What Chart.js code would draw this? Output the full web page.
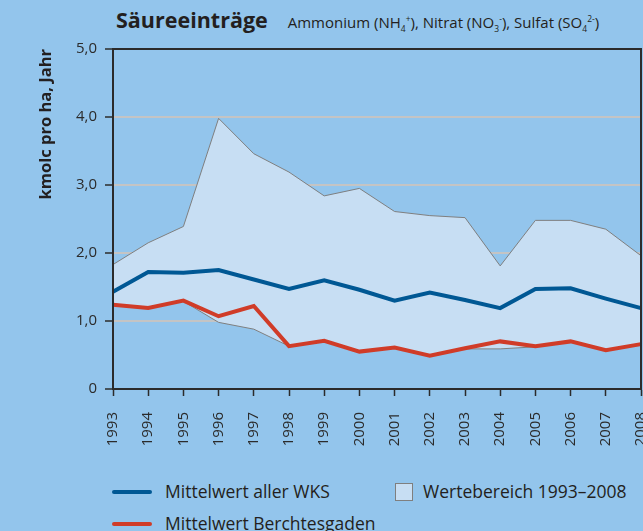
<!DOCTYPE html>
<html>
<head>
<meta charset="utf-8">
<script src="https://cdn.jsdelivr.net/npm/chart.js@4"></script>
<style>
  html, body { margin: 0; padding: 0; }
  body { width: 643px; height: 531px; overflow: hidden; background: #93c5ec; position: relative;
         font-family: "Open Sans", sans-serif; color: #231f20; }
  #box { position: absolute; left: 0; top: 0; width: 643px; height: 460px; }
  #title { position: absolute; left: 116px; top: 5px; white-space: nowrap; }
  #title b { font-size: 21.5px; font-weight: 700; }
  #title span { font-size: 15px; margin-left: 20px; }
  #title sub, #title sup { font-size: 8.5px; }
  .leg { position: absolute; font-size: 17.5px; line-height: 22px; white-space: nowrap; }
  .line { position: absolute; width: 40px; height: 4px; border-radius: 2px; }
  .sq { position: absolute; width: 16px; height: 16px; background: #c7def3; border: 1px solid #7f7f7f; }
</style>
</head>
<body>
<div id="title"><b>Säureeinträge</b><span>Ammonium (NH<sub>4</sub><sup>+</sup>), Nitrat (NO<sub>3</sub><sup>-</sup>), Sulfat (SO<sub>4</sub><sup>2-</sup>)</span></div>
<div id="box"><canvas id="chart"></canvas></div>

<div class="line" style="left:112px; top:490px; background:#005894"></div>
<div class="leg" style="left:165px; top:480px">Mittelwert aller WKS</div>
<div class="sq" style="left:395px; top:483px"></div>
<div class="leg" style="left:423px; top:480px">Wertebereich 1993–2008</div>
<div class="line" style="left:112px; top:522px; background:#d03c28"></div>
<div class="leg" style="left:165px; top:512px">Mittelwert Berchtesgaden</div>

<script>
// Werte
var years = ["1993", "1994", "1995", "1996", "1997", "1998", "1999", "2000",
             "2001", "2002", "2003", "2004", "2005", "2006", "2007", "2008"];
var rangeMax = [1.83, 2.15, 2.39, 3.98, 3.46, 3.19, 2.84, 2.95, 2.61, 2.55, 2.52, 1.81, 2.48, 2.48, 2.35, 1.96];
var rangeMin = [1.24, 1.19, 1.29, 0.98, 0.88, 0.63, 0.71, 0.55, 0.61, 0.49, 0.59, 0.59, 0.62, 0.70, 0.57, 0.66];
var meanWKS = [1.43, 1.72, 1.71, 1.75, 1.61, 1.47, 1.60, 1.46, 1.30, 1.42, 1.31, 1.19, 1.47, 1.48, 1.33, 1.19];
var meanBGD = [1.24, 1.19, 1.30, 1.07, 1.22, 0.63, 0.71, 0.55, 0.61, 0.49, 0.60, 0.70, 0.63, 0.70, 0.57, 0.66];
var yTicks = [0, 1, 2, 3, 4, 5];

var dark = "#2b2b2b";
var font = "'Open Sans', sans-serif";

// Rahmen um die Zeichenfläche
var frame = {
    id: "frame",
    afterDatasetsDraw: function (chart) {
        var a = chart.chartArea, c = chart.ctx;
        c.save();
        c.strokeStyle = dark;
        c.lineWidth = 2;
        c.strokeRect(a.left, a.top, a.right - a.left, a.bottom - a.top);
        c.restore();
    }
};

var ctx = document.getElementById("chart").getContext("2d");
var myChart = new Chart(ctx, {
    type: "line",
    data: {
        labels: years,
        datasets: [{
                label: "max",
                data: rangeMax,
                borderColor: "#7f7f7f",
                borderWidth: 1,
                backgroundColor: "#c7def3",
                fill: "+1",
                order: 3
            },
            {
                label: "min",
                data: rangeMin,
                borderColor: "#7f7f7f",
                borderWidth: 1,
                fill: false,
                order: 2
            },
            {
                label: "Mittelwert aller WKS",
                data: meanWKS,
                borderColor: "#005894",
                borderWidth: 4,
                fill: false,
                order: 1
            },
            {
                label: "Mittelwert Berchtesgaden",
                data: meanBGD,
                borderColor: "#d03c28",
                borderWidth: 4,
                fill: false,
                order: 0
            }
        ]
    },
    options: {
        responsive: true,
        maintainAspectRatio: false,
        animation: false,
        events: [],
        elements: { point: { radius: 0 }, line: { tension: 0 } },
        layout: { padding: { top: 49, right: 2, left: 0, bottom: 0 } },
        plugins: { legend: { display: false }, tooltip: { enabled: false } },
        scales: {
            x: {
                grid: { drawOnChartArea: false, tickColor: dark, tickLength: 7, tickWidth: 1.5 },
                border: { color: dark, width: 2 },
                ticks: {
                    autoSkip: false, minRotation: 90, maxRotation: 90, padding: 16,
                    color: dark, font: { family: font, size: 15 }
                },
                afterFit: function (s) { s.height = 71; s.paddingRight = 0; }
            },
            y: {
                min: 0,
                max: 5,
                afterBuildTicks: function (s) { s.ticks = yTicks.map(function (v) { return { value: v }; }); },
                grid: { color: "#c4c4c4", lineWidth: 2, tickColor: dark, tickLength: 8, tickWidth: 1.5 },
                border: { color: dark, width: 2 },
                ticks: {
                    padding: 8, color: dark, font: { family: font, size: 15 },
                    callback: function (v) { return v === 0 ? "0" : v.toFixed(1).replace(".", ","); }
                },
                title: {
                    display: true, text: "kmolc pro ha, Jahr", align: "end", color: "#231f20",
                    font: { family: font, size: 16.5, weight: "bold" }, padding: { top: 36, bottom: 0 }
                },
                afterFit: function (s) { s.width = 113; }
            }
        }
    },
    plugins: [frame]
});
</script>
</body>
</html>
